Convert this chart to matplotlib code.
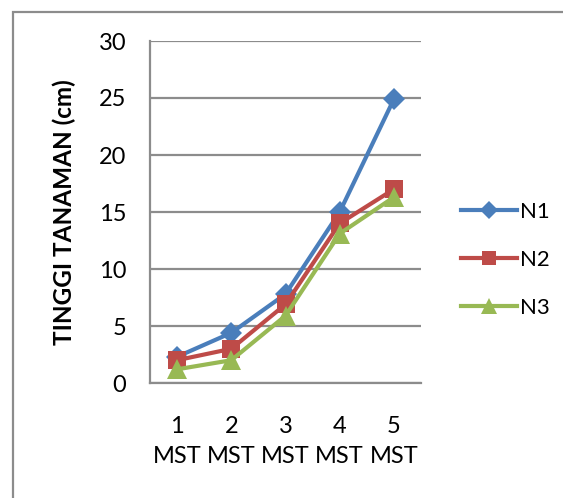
import matplotlib
matplotlib.use("Agg")
import matplotlib.pyplot as plt
from matplotlib.patches import Rectangle

plt.rcParams['font.family'] = ['Lato', 'DejaVu Sans']

categories = ["1\nMST", "2\nMST", "3\nMST", "4\nMST", "5\nMST"]
n1 = [2.3, 4.4, 7.8, 15.0, 24.9]
n2 = [2.0, 3.0, 6.9, 14.0, 17.0]
n3 = [1.2, 2.0, 5.9, 13.1, 16.3]
series_names = ["N1", "N2", "N3"]
yticks = [0, 5, 10, 15, 20, 25, 30]

W, H = 563, 498
fig = plt.figure(figsize=(W / 100, H / 100), dpi=100)

# outer chart-area frame
fig.patches.append(Rectangle((12.5 / W, -0.1), 1.2, (H - 12.5) / H + 0.1,
                             transform=fig.transFigure, fill=False,
                             edgecolor='#8c8c8c', linewidth=1.6))

ax = fig.add_axes([150 / W, 1 - 383 / H, (421 - 150) / W, (383 - 41) / H])
x = list(range(1, len(categories) + 1))

styles = [
    dict(color='#4A7EBB', marker='D', markersize=11),
    dict(color='#BE4B48', marker='s', markersize=12.5),
    dict(color='#98B954', marker='^', markersize=14),
]
for vals, name, st in zip([n1, n2, n3], series_names, styles):
    ax.plot(x, vals, linewidth=3.0, label=name, solid_joinstyle='round',
            markeredgewidth=0, **st)

ax.set_xlim(0.5, 5.5)
ax.set_ylim(0, 30)
ax.set_yticks(yticks)
ax.set_xticks(x)
ax.set_xticklabels(categories, linespacing=1.5)
ax.grid(axis='y', color='#8c8c8c', linewidth=1.6)
ax.set_axisbelow(True)
for s in ['top', 'right']:
    ax.spines[s].set_visible(False)
for s in ['left', 'bottom']:
    ax.spines[s].set_color('#8c8c8c')
    ax.spines[s].set_linewidth(1.6)
ax.tick_params(axis='y', length=0, labelsize=17, pad=17)
ax.tick_params(axis='x', length=0, labelsize=17, pad=24)
ax.set_ylabel("TINGGI TANAMAN (cm)", fontsize=17.5, fontweight='bold', labelpad=16)

leg = fig.legend(loc='upper left', bbox_to_anchor=(461 / W, 1 - 202 / H),
                 frameon=False, fontsize=16, handlelength=2.5,
                 labelspacing=1.25, handletextpad=0.14,
                 borderpad=0, borderaxespad=0, markerscale=0.85)

fig.savefig("out.png", dpi=100)
